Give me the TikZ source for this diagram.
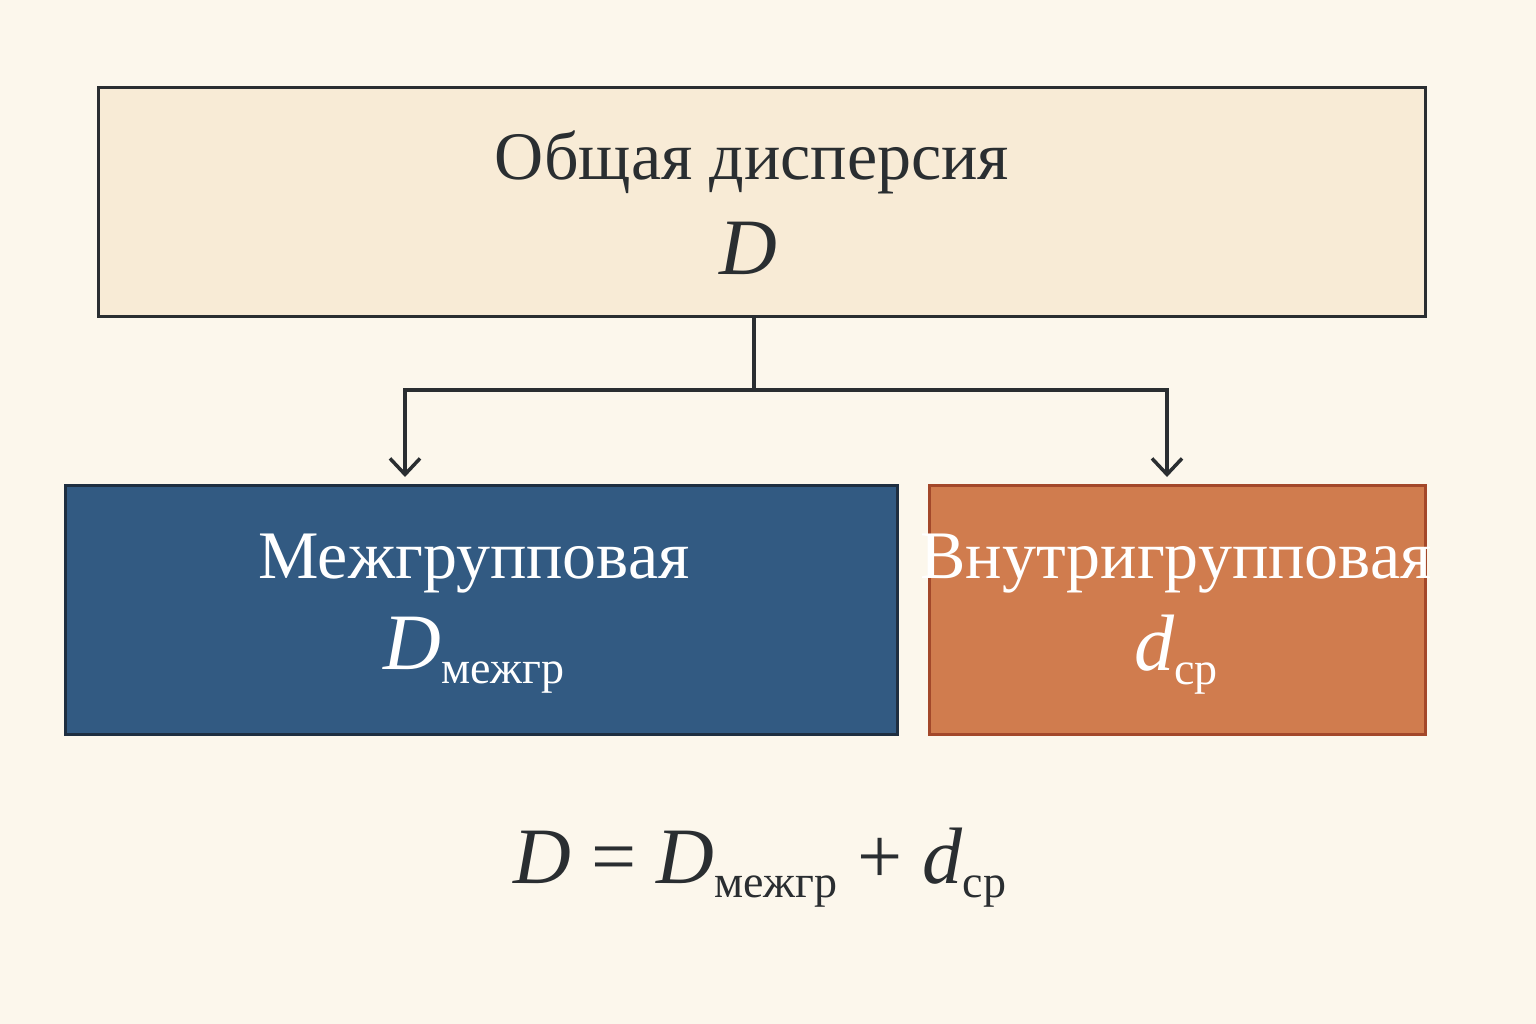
\documentclass[tikz,border=0pt]{standalone}
\usepackage{fontspec}
\setmainfont{Liberation Serif}
\usetikzlibrary{arrows.meta}
\definecolor{bg}{HTML}{FCF7EC}
\definecolor{topf}{HTML}{F8EBD6}
\definecolor{ink}{HTML}{2A2E31}
\definecolor{bluef}{HTML}{325A82}
\definecolor{blueb}{HTML}{1E2E40}
\definecolor{orf}{HTML}{D07C4E}
\definecolor{orb}{HTML}{A3482A}
\tikzset{
 box/.style={draw, line width=3pt, inner sep=0pt},
 conn/.style={draw=ink, line width=3.5pt},
 arr/.style={conn, -{Straight Barb[length=16pt,width=30pt,line width=3.5pt]}},
 big/.style={font=\fontsize{68}{80}\selectfont, align=center},
}
\newcommand{\sbx}[1]{\raisebox{-14pt}{\fontsize{46}{50}\selectfont #1}}
\begin{document}
\begin{tikzpicture}[x=1pt,y=-1pt]
\useasboundingbox[fill=bg] (0,0) rectangle (1536,1024);
\path[box, draw=ink, fill=topf] (98,88) rectangle (1425,316);
\node (top) at (761,202) {};
\node[big, text=ink] (t1) at (752,162) {Общая дисперсия};
\node[text=ink, font=\fontsize{80}{80}\selectfont\itshape] (t2) at (748,248) {D};
\path[box, draw=blueb, fill=bluef] (65,485) rectangle (897,734);
\path[box, draw=orb, fill=orf] (929,485) rectangle (1425,734);
\node[big, text=white] (b1) at (474,564) {Межгрупповая};
\node[text=white, font=\fontsize{80}{80}\selectfont] (b2) at (474,655) {\textit{D}\sbx{межгр}};
\node[big, text=white] (o1) at (1176,564) {Внутригрупповая};
\node[text=white, font=\fontsize{80}{80}\selectfont] (o2) at (1176,655) {\textit{d}\sbx{ср}};
\coordinate (s0) at (754,316);
\coordinate (s1) at (754,390);
\coordinate (l) at (405,390);
\coordinate (r) at (1167,390);
\coordinate (la) at (405,477);
\coordinate (ra) at (1167,477);
\draw[conn] (s0) -- (s1);
\draw[conn, line cap=rect] (l) -- (r);
\draw[arr] (l) -- (la);
\draw[arr] (r) -- (ra);
\node[text=ink, font=\fontsize{80}{80}\selectfont] (eq) at (760,868) {\textit{D} = \textit{D}\sbx{межгр} + \textit{d}\sbx{ср}};
\end{tikzpicture}
\end{document}
